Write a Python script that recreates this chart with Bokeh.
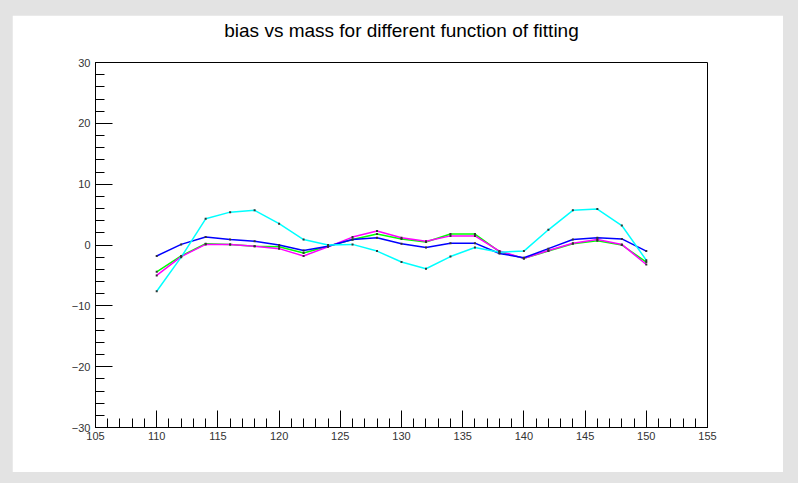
from bokeh.plotting import figure
from bokeh.models import Range1d, FixedTicker, Title
from bokeh.layouts import column
from bokeh.embed import file_html
from bokeh.resources import INLINE

# ---- data ----
mass = [110, 112, 114, 116, 118, 120, 122, 124, 126, 128, 130,
        132, 134, 136, 138, 140, 142, 144, 146, 148, 150]
bias_green = [-4.4, -1.8, 0.2, 0.1, -0.2, -0.3, -1.3, -0.2, 0.9, 1.8, 1.0,
              0.5, 1.8, 1.8, -1.1, -2.2, -1.0, 0.2, 0.7, 0.0, -2.8]
bias_magenta = [-5.0, -1.9, 0.1, 0.1, -0.2, -0.6, -1.8, -0.3, 1.3, 2.3, 1.2,
                0.6, 1.5, 1.5, -1.0, -2.2, -0.9, 0.3, 0.9, 0.1, -3.2]
bias_blue = [-1.8, 0.1, 1.3, 0.9, 0.6, 0.0, -0.9, -0.2, 0.9, 1.2, 0.2,
             -0.4, 0.3, 0.3, -1.4, -2.1, -0.6, 0.9, 1.2, 1.0, -1.0]
bias_cyan = [-7.6, -2.0, 4.3, 5.4, 5.7, 3.5, 0.9, 0.0, 0.1, -1.0, -2.8,
             -3.9, -1.9, -0.4, -1.2, -1.0, 2.5, 5.7, 5.9, 3.2, -2.5]

x_major = [105, 110, 115, 120, 125, 130, 135, 140, 145, 150, 155]
x_minor = list(range(105, 156))
y_major = [-30, -20, -10, 0, 10, 20, 30]
y_minor = list(range(-30, 31, 2))

title_text = "bias vs mass for different function of fitting"

FONT = "Liberation Sans"

p = figure(width=771, height=457,
           x_range=Range1d(105, 155), y_range=Range1d(-30, 30),
           output_backend="svg", toolbar_location=None,
           min_border_left=83, min_border_right=76,
           min_border_top=47, min_border_bottom=45,
           background_fill_color="white", border_fill_color="white")

p.title = Title(text=title_text, align="center", vertical_align="top",
                text_font=FONT, text_font_size="19px", text_font_style="normal",
                text_color="black", standoff=7, offset=16)
# blank spacer between the frame and the title, to lift the title
p.add_layout(Title(text=" ", text_font=FONT, text_font_size="12px",
                   standoff=0), "above")

p.xgrid.visible = False
p.ygrid.visible = False
p.outline_line_color = "black"
p.outline_line_width = 1
p.outline_line_alpha = 1

for ax, maj, mnr in ((p.xaxis[0], x_major, x_minor), (p.yaxis[0], y_major, y_minor)):
    ax.ticker = FixedTicker(ticks=maj, minor_ticks=mnr)
    ax.axis_line_color = "black"
    ax.axis_line_width = 1
    ax.major_tick_line_color = "black"
    ax.minor_tick_line_color = "black"
    ax.major_tick_out = 0
    ax.minor_tick_out = 0
    ax.major_label_text_font = FONT
    ax.major_label_text_font_size = "11px"
    ax.major_label_text_color = "#333333"

p.xaxis.major_tick_in = 17
p.xaxis.minor_tick_in = 9
p.yaxis.major_tick_in = 17
p.yaxis.minor_tick_in = 9
p.xaxis.major_label_standoff = 4
p.yaxis.major_label_standoff = 5

series = [(bias_green, "#00ff00"), (bias_magenta, "#ff00ff"),
          (bias_blue, "#0000ff"), (bias_cyan, "#00ffff")]
for ys, col in series:
    p.line(mass, ys, line_color=col, line_width=1.5)
for ys, col in series:
    p.scatter(mass, ys, marker="square", size=2, fill_color="#333333",
              line_color="#333333", line_width=0)

p.margin = (15, 15, 11, 12)
layout = column(p, width=798, height=483,
                styles={"background-color": "#e3e3e3"})

open("out.html", "w").write(file_html(layout, INLINE))
